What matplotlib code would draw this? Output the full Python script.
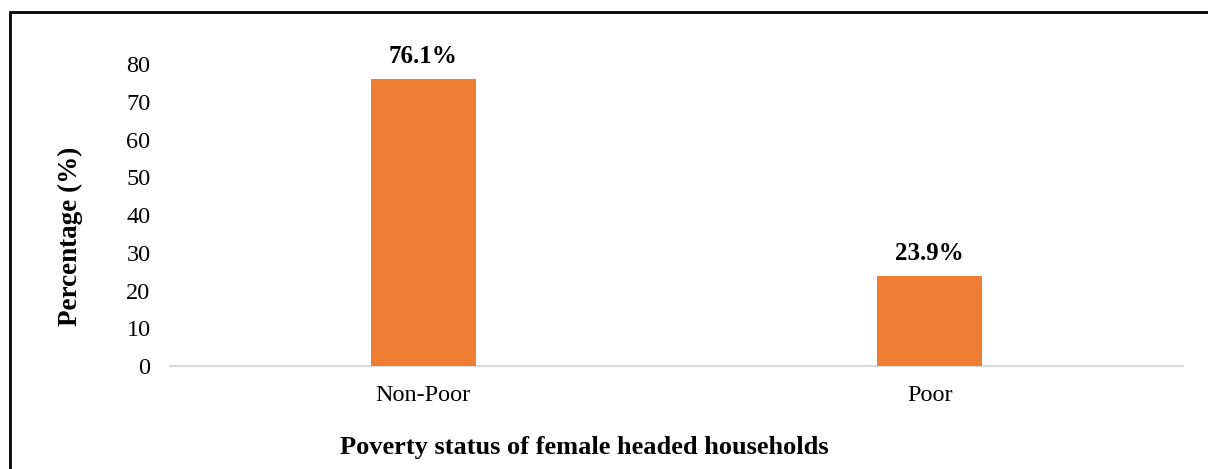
import matplotlib
matplotlib.use("Agg")
import matplotlib.pyplot as plt
from matplotlib.patches import Rectangle

categories = ["Non-Poor", "Poor"]
values = [76.1, 23.9]
value_labels = ["76.1%", "23.9%"]
yticks = [0, 10, 20, 30, 40, 50, 60, 70, 80]

plt.rcParams['font.family'] = ['Liberation Serif', 'DejaVu Serif']

W, H = 1208, 469
fig = plt.figure(figsize=(W / 100, H / 100), dpi=100)
ax = fig.add_axes([170 / W, 1 - 366 / H, (1183 - 170) / W, (366 - 64) / H])

x = list(range(len(categories)))
ax.bar(x, values, width=0.207, color="#ED7D31", zorder=3)
for xi, v, lab in zip(x, values, value_labels):
    ax.annotate(lab, (xi, v), xytext=(0, 8), textcoords="offset points",
                ha="center", va="bottom", fontsize=18, fontweight="bold")

ax.set_xlim(-0.5, 1.5)
ax.set_ylim(0, 80)
ax.set_yticks(yticks)
ax.set_xticks(x)
ax.set_xticklabels(categories)
ax.tick_params(axis="both", length=0, labelsize=17.5)
ax.tick_params(axis="y", pad=14)
ax.tick_params(axis="x", pad=14)
for s in ["top", "right", "left"]:
    ax.spines[s].set_visible(False)
ax.spines["bottom"].set_color("#D9D9D9")
ax.spines["bottom"].set_linewidth(1.5)

ax.set_ylabel("Percentage (%)", fontsize=19.5, fontweight="bold")
ax.yaxis.set_label_coords((70 - 170) / (1183 - 170), 1 - (236 - 64) / (366 - 64))
ax.set_xlabel("Poverty status of female headed households", fontsize=19,
              fontweight="bold")
ax.xaxis.set_label_coords((584 - 170) / (1183 - 170), -(447 - 366) / (366 - 64))
ax.xaxis.label.set_va("center")
ax.yaxis.label.set_va("center")

# outer frame
fig.patches.append(Rectangle((9.5 / W, -0.1), 2.0, 1 - 12.5 / H + 0.1,
                             transform=fig.transFigure, fill=False,
                             edgecolor="black", linewidth=2, figure=fig))

fig.savefig("out.png", dpi=100)
